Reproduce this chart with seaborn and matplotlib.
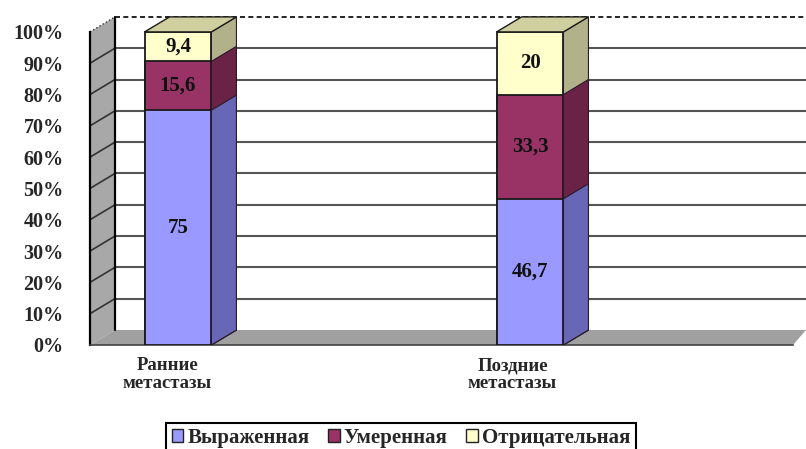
import numpy as np
import pandas as pd
import matplotlib
matplotlib.use('Agg')
import matplotlib.pyplot as plt
from matplotlib.patches import Polygon, Patch
import seaborn as sns

groups = ['Ранние\nметастазы', 'Поздние\nметастазы']
strong = [75, 46.7]
moderate = [15.6, 33.3]
negative = [9.4, 20]
series_names = ['Выраженная', 'Умеренная', 'Отрицательная']
y_ticks = [0, 10, 20, 30, 40, 50, 60, 70, 80, 90, 100]

front_colors = ['#9999FF', '#993366', '#FFFFCC']
side_colors = ['#6767B5', '#6A2347', '#B2B28A']
top_color = '#CFCFA0'

sns.set_style('white')
plt.rcParams['font.family'] = ['Liberation Serif', 'DejaVu Serif']
plt.rcParams['font.weight'] = 'bold'

series = [strong, moderate, negative]
cum = np.cumsum(np.array(series), axis=0)  # layer tops
df = pd.DataFrame({'group': groups * 3,
                   'layer': np.repeat([0, 1, 2], 2),
                   'top': cum.ravel()})

fig = plt.figure(figsize=(8.06, 4.49), dpi=100)
ax = fig.add_axes([90 / 806, 104 / 449, 716 / 806, 340 / 449])

X0, XR = -0.25, 1.784
DX, DY = 0.071, 4.8
BW = 0.19

# walls and floor
ax.add_patch(Polygon([(X0, 0), (X0 + DX, DY), (X0 + DX, 100 + DY), (X0, 100)],
                     closed=True, fc='#A8A8A8', ec='none', zorder=0.2))
ax.add_patch(Polygon([(X0, 0), (X0 + DX, DY), (XR, DY), (1.747, 0)],
                     closed=True, fc='#A0A0A0', ec='none', zorder=0.2))
for v in y_ticks[1:-1]:
    ax.plot([X0 + DX, XR], [v + DY, v + DY], color='#555555', lw=1.5, zorder=0.3)
    ax.plot([X0, X0 + DX], [v, v + DY], color='#333333', lw=1.2, zorder=0.3)
ax.plot([X0 + DX, XR], [100 + DY, 100 + DY], color='black', lw=1.2, ls=(0, (3, 2)), zorder=0.3)
ax.plot([X0 + DX, X0 + DX], [DY, 100 + DY], color='black', lw=1.6, zorder=0.3)
ax.plot([X0, X0 + DX], [100, 100 + DY], color='#333333', lw=1.0, ls=':', zorder=0.3)

# bars: draw cumulative tops from the highest layer down
for layer in [2, 1, 0]:
    n_before = len(ax.patches)
    sns.barplot(data=df[df['layer'] == layer], x='group', y='top', order=groups,
                color=front_colors[layer], saturation=1, width=BW, errorbar=None,
                edgecolor='#1a1a1a', linewidth=1.3, zorder=3 + (2 - layer), ax=ax)
    for p in ax.patches[n_before:]:
        x1 = p.get_x() + p.get_width()
        h = p.get_height()
        ax.add_patch(Polygon([(x1, 0), (x1 + DX, DY), (x1 + DX, h + DY), (x1, h)],
                             closed=True, fc=side_colors[layer], ec='#2a1a2a', lw=0.8,
                             zorder=3 + (2 - layer)))
        if layer == 2:
            x0 = p.get_x()
            ax.add_patch(Polygon([(x0, h), (x0 + DX, h + DY), (x1 + DX, h + DY), (x1, h)],
                                 closed=True, fc=top_color, ec='#1a1a1a', lw=1.0, zorder=3))

# value labels
for i in range(len(groups)):
    bottom = 0
    for layer, vals in enumerate(series):
        v = vals[i]
        txt = f'{v:g}'.replace('.', ',')
        ax.text(i, bottom + v / 2, txt, ha='center', va='center', fontsize=15,
                fontweight='bold', color='#111111', zorder=10)
        bottom += v

ax.set_xlim(X0, XR)
ax.set_ylim(0, 108.6)
ax.set_xlabel('')
ax.set_ylabel('')
ax.set_yticks(y_ticks)
ax.set_yticklabels([f'{v}%' for v in y_ticks], fontsize=14.5, fontweight='bold')
ax.set_xticks([-0.03, 0.95])
ax.set_xticklabels(groups, fontsize=13.5, fontweight='bold', linespacing=1.05)
ax.set_xticks([X0, 0.747, 1.747], minor=True)
ax.tick_params(axis='x', which='major', length=0, pad=9)
ax.tick_params(axis='x', which='minor', length=4, width=1.5, color='black', direction='out')
ax.tick_params(axis='y', length=5, width=1.5, color='black', direction='out', pad=14)

for s in ['top', 'right']:
    ax.spines[s].set_visible(False)
ax.spines['left'].set_bounds(0, 100)
ax.spines['left'].set_linewidth(1.6)
ax.spines['left'].set_color('black')
ax.spines['bottom'].set_bounds(X0, 1.747)
ax.spines['bottom'].set_linewidth(1.2)
ax.spines['bottom'].set_color('#444444')

handles = [Patch(fc=c, ec='#222222', lw=1.0) for c in front_colors]
leg = fig.legend(handles, series_names, loc='center', bbox_to_anchor=(401 / 806, 1 - 438 / 449),
                 ncol=3, frameon=True, fancybox=False, edgecolor='black', framealpha=1,
                 handlelength=0.55, handleheight=0.55, handletextpad=0.2, columnspacing=0.9,
                 borderpad=0.25, prop={'family': 'Liberation Serif', 'weight': 'bold', 'size': 15})
leg.get_frame().set_linewidth(1.5)

fig.savefig('out.png', dpi=100)
